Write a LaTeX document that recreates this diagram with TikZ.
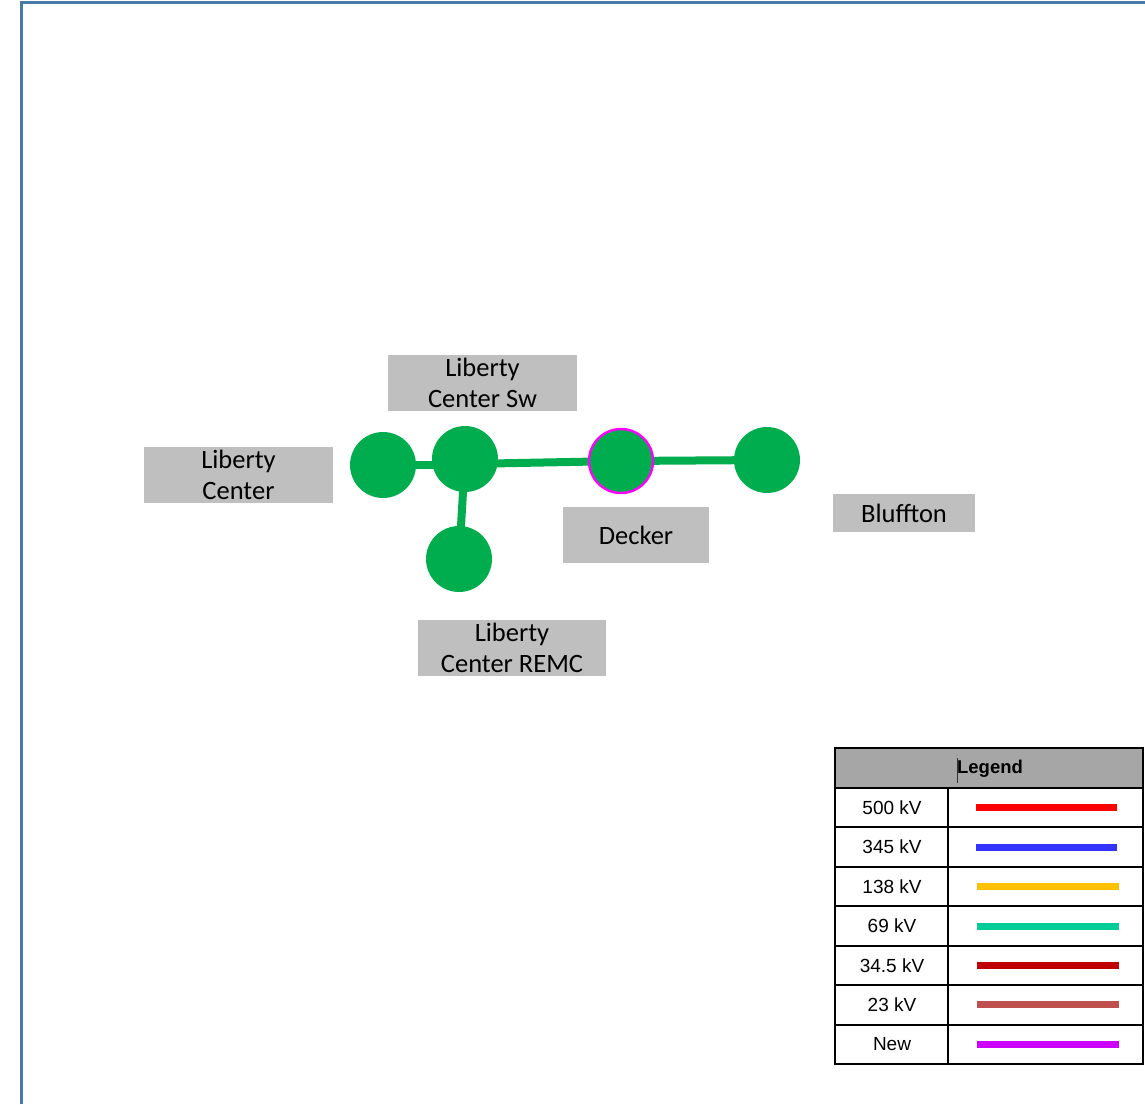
\documentclass[tikz,border=0pt]{standalone}
\usepackage{fontspec}
\usetikzlibrary{backgrounds}
\setmainfont{Carlito}
\newfontfamily\legfont{Liberation Sans}
\definecolor{frameblue}{HTML}{4A78A8}
\definecolor{subgreen}{HTML}{00AD4E}
\definecolor{labgray}{HTML}{BFBFBF}
\definecolor{leghead}{HTML}{A6A6A6}
\definecolor{newring}{HTML}{FF00FF}
\definecolor{kvA}{HTML}{FF0000}
\definecolor{kvB}{HTML}{3333FF}
\definecolor{kvC}{HTML}{FFC000}
\definecolor{kvD}{HTML}{00CC99}
\definecolor{kvE}{HTML}{C00000}
\definecolor{kvF}{HTML}{C0504D}
\definecolor{kvG}{HTML}{CC00FF}
\tikzset{
  sub/.style={circle,fill=subgreen,minimum size=66pt,inner sep=0pt},
  newsub/.style={sub,draw=newring,line width=2.4pt,minimum size=64pt},
  conn/.style={draw=subgreen,line width=8pt},
  lab/.style={fill=labgray,inner sep=0pt,align=center,font=\fontsize{26.5}{31.5}\selectfont},
  legtext/.style={font=\legfont\fontsize{19}{21}\selectfont},
  legline/.style={line width=7pt},
  cell/.style={draw=black,line width=2pt}
}
\begin{document}
\begin{tikzpicture}[x=1pt,y=-1pt]
\useasboundingbox (0,0) rectangle (1145,1104);
% frame
\draw[frameblue,line width=3pt] (21,1104) -- (21,2.5) -- (1145,2.5);
% labels
\node[lab,minimum width=189pt,minimum height=56pt] (lsw) at (482.5,383) {Liberty\\Center Sw};
\node[lab,minimum width=189pt,minimum height=56pt] (llc) at (238.5,475) {Liberty\\Center};
\node[lab,minimum width=146pt,minimum height=56pt] (ldk) at (636,535) {Decker};
\node[lab,minimum width=142pt,minimum height=38pt] (lbf) at (904,513) {Bluffton};
\node[lab,minimum width=188pt,minimum height=56pt] (lrm) at (512,648) {Liberty\\Center REMC};
% substations
\node[sub] (lc) at (383,465) {};
\node[sub] (sw) at (465,459) {};
\node[sub] (remc) at (459,559) {};
\node[newsub] (dk) at (621,461) {};
\node[sub] (bf) at (767,460) {};
\coordinate (swlow) at (465,464);
\begin{scope}[on background layer]
\draw[conn] (lc.center) -- (lc.center -| sw.center);
\draw[conn] (sw.center) -- (remc.center);
\draw[conn] (swlow) -- (dk.center);
\draw[conn] (dk.center) -- (bf.center);
\end{scope}
% legend
\fill[leghead] (835,748) rectangle (1143,788);
\node[font=\legfont\bfseries\fontsize{18.5}{20}\selectfont] (lh) at (990,769) {Legend};
\draw[black!80,line width=0.8pt] (957,758) -- (957,783);
\foreach \i/\t/\c/\xs/\xe in {0/500 kV/kvA/976/1117,1/345 kV/kvB/976/1117,2/138 kV/kvC/977/1119,3/69 kV/kvD/977/1119,4/34.5 kV/kvE/977/1119,5/23 kV/kvF/977/1119,6/New/kvG/977/1119}{
  \pgfmathsetmacro\ya{788+39.43*\i}
  \pgfmathsetmacro\yb{788+39.43*(\i+1)}
  \pgfmathsetmacro\ym{(\ya+\yb)/2}
  \node[legtext] (lt\i) at (892,\ym) {\t};
  \draw[legline,\c] (\xs,\ym) -- (\xe,\ym);
  \draw[cell] (835,\ya) -- (1143,\ya);
}
\draw[cell] (835,748) rectangle (1143,1064);
\draw[cell] (948,788) -- (948,1064);
\end{tikzpicture}
\end{document}
